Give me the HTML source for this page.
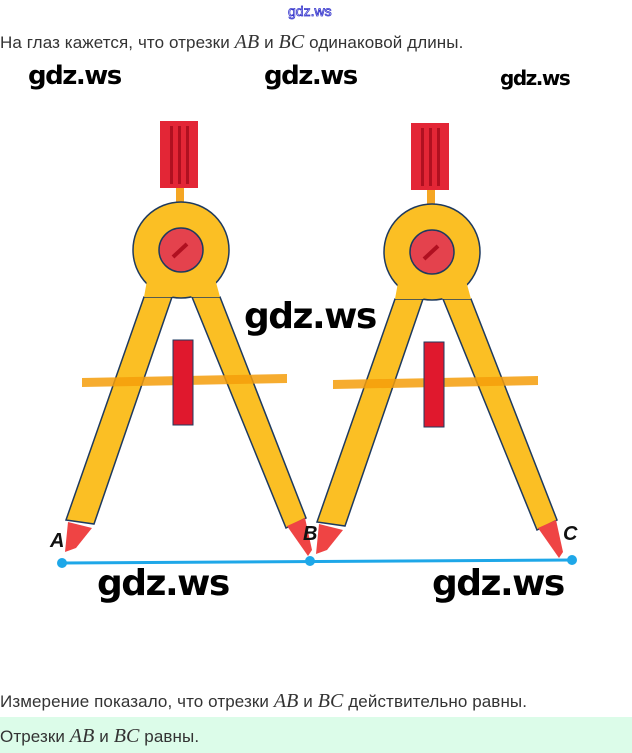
<!DOCTYPE html>
<html><head><meta charset="utf-8"><style>
body{margin:0;width:632px;height:753px;background:#fff;overflow:hidden;position:relative;font-family:"Liberation Sans","DejaVu Sans",sans-serif}
.t{position:absolute;left:0;font-size:17px;color:#333;white-space:nowrap;letter-spacing:0.1px}
.m{font-family:"Liberation Serif",serif;font-style:italic;font-size:20px}
.w{position:absolute;font-family:"DejaVu Sans","Liberation Sans",sans-serif;font-weight:bold;color:#000;letter-spacing:-1.5px}
</style></head><body>
<div style="position:absolute;left:288px;top:3px;font-size:14px;color:#fff;-webkit-text-stroke:0.8px #3333cc">gdz.ws</div>
<div class="t" style="top:31px">На глаз кажется, что отрезки <span class="m">AB</span> и <span class="m">BC</span> одинаковой длины.</div>
<div class="w" style="left:28px;top:61px;font-size:26px">gdz.ws</div>
<div class="w" style="left:264px;top:61px;font-size:26px">gdz.ws</div>
<div class="w" style="left:500px;top:66px;font-size:20px">gdz.ws</div>
<svg width="632" height="600" style="position:absolute;left:0;top:0" viewBox="0 0 632 600">
<g id="c">
<rect x="160" y="121" width="38" height="67" fill="#e32636"/>
<rect x="170" y="126" width="3" height="58" fill="#b01020"/><rect x="178" y="126" width="3" height="58" fill="#b01020"/><rect x="186" y="126" width="3" height="58" fill="#b01020"/>
<rect x="176" y="188" width="8" height="26" fill="#f5a623"/>
<polygon points="144,297 172,297 94,524 66,520" fill="#fbbf24" stroke="#1e3a5f" stroke-width="1.5"/>
<polygon points="192,297 220,297 306,518 286,528" fill="#fbbf24" stroke="#1e3a5f" stroke-width="1.5"/>
<circle cx="181" cy="250" r="48" fill="#fbbf24" stroke="#1e3a5f" stroke-width="1.5"/>
<polygon points="148,275 214,275 220,297 192,297 182,290 172,297 144,297" fill="#fbbf24"/>
<circle cx="181" cy="250" r="22" fill="#e4424d" stroke="#1e3a5f" stroke-width="1.5"/>
<line x1="173" y1="257" x2="187" y2="244" stroke="#b01020" stroke-width="4"/>
<polygon points="82,378 287,374 287,383 82,387" fill="#f59e0b" opacity="0.85"/>
<rect x="173" y="340" width="20" height="85" fill="#e0182d" stroke="#1e3a5f" stroke-width="1"/>
<polygon points="68,522 92,528 76,548 65,552" fill="#ef4444"/>
<polygon points="287,526 305,518 312,550 308,556" fill="#ef4444"/>
</g>
<use href="#c" transform="translate(251,2)"/>
<line x1="62" y1="563" x2="572" y2="560" stroke="#1ea7e8" stroke-width="3"/>
<circle cx="62" cy="563" r="5" fill="#1ea7e8"/><circle cx="310" cy="561" r="5" fill="#1ea7e8"/><circle cx="572" cy="560" r="5" fill="#1ea7e8"/>
<g font-family="Liberation Sans,sans-serif" font-style="italic" font-weight="bold" font-size="20" fill="#111">
<text x="50" y="547">A</text><text x="303" y="540">B</text><text x="563" y="540">C</text></g>
</svg>
<div class="w" style="left:244px;top:296px;font-size:36px">gdz.ws</div>
<div class="w" style="left:97px;top:563px;font-size:36px">gdz.ws</div>
<div class="w" style="left:432px;top:563px;font-size:36px">gdz.ws</div>
<div class="t" style="top:690px">Измерение показало, что отрезки <span class="m">AB</span> и <span class="m">BC</span> действительно равны.</div>
<div style="position:absolute;left:0;top:717px;width:632px;height:36px;background:#dcfce9"></div>
<div class="t" style="top:725px">Отрезки <span class="m">AB</span> и <span class="m">BC</span> равны.</div>
</body></html>
